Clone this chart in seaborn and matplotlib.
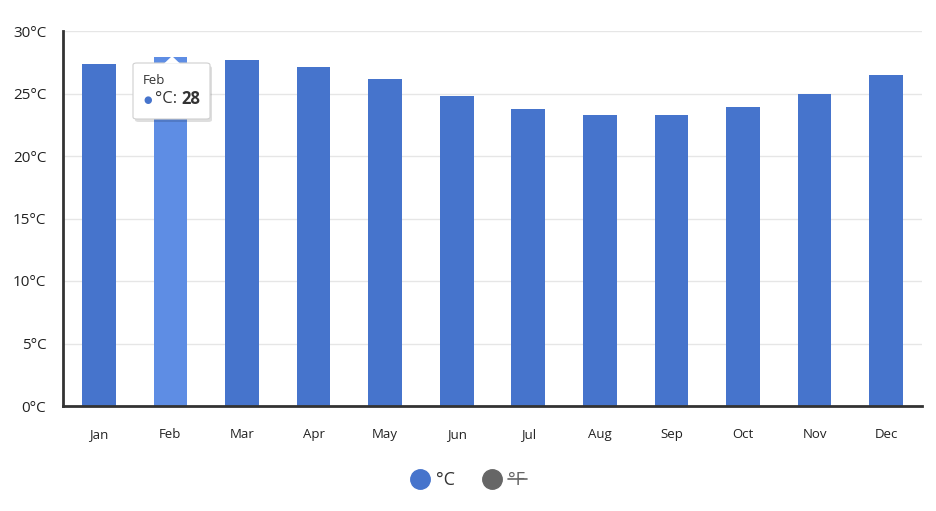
import matplotlib
matplotlib.use("Agg")
import matplotlib.pyplot as plt
import seaborn as sns
import pandas as pd
from matplotlib.patches import FancyBboxPatch, Polygon
from matplotlib.lines import Line2D

months = ["Jan", "Feb", "Mar", "Apr", "May", "Jun", "Jul", "Aug", "Sep", "Oct", "Nov", "Dec"]
temps_c = [27.4, 27.9, 27.7, 27.1, 26.2, 24.8, 23.8, 23.3, 23.3, 23.9, 25.0, 26.5]
y_ticks = [0, 5, 10, 15, 20, 25, 30]
y_labels = [f"{v}°C" for v in y_ticks]
highlight = "Feb"

sns.set_theme(style="white")
plt.rcParams["font.family"] = ["Open Sans", "DejaVu Sans"]

W, H = 937, 511
fig = plt.figure(figsize=(W / 100, H / 100), dpi=100)
ax = fig.add_axes([63 / W, 1 - 406 / H, (922 - 63) / W, (406 - 31) / H])

base = "#4674CC"
hl = "#5E8DE4"
df = pd.DataFrame({"month": months, "temp": temps_c})
palette = {m: (hl if m == highlight else base) for m in months}
sns.barplot(data=df, x="month", y="temp", hue="month", palette=palette,
            legend=False, width=0.47, ax=ax, saturation=1, linewidth=0)

ax.set_ylim(0, 30)
ax.set_xlim(-0.5, len(months) - 0.5)
ax.set_yticks(y_ticks)
ax.set_yticklabels(y_labels, fontsize=11, color="#222222")
ax.tick_params(axis="x", labelsize=9.5, colors="#222222", pad=16, length=0)
ax.tick_params(axis="y", length=0, pad=12)
ax.set_xlabel("")
ax.set_ylabel("")
ax.yaxis.grid(True, color="#e6e6e6", linewidth=1)
ax.set_axisbelow(True)
for s in ["top", "right"]:
    ax.spines[s].set_visible(False)
ax.spines["left"].set_color("#333333")
ax.spines["left"].set_linewidth(2)
ax.spines["bottom"].set_color("#333333")
ax.spines["bottom"].set_linewidth(2)

def fx(px):
    return px / W

def fy(py):
    return 1 - py / H

# tooltip
shadow = FancyBboxPatch((fx(135), fy(122)), fx(77), 56 / H,
                        boxstyle="round,pad=0,rounding_size=0.004",
                        transform=fig.transFigure, facecolor="#000000", alpha=0.13,
                        edgecolor="none", zorder=9)
fig.patches.append(shadow)
box = FancyBboxPatch((fx(133), fy(119)), fx(77), 56 / H,
                     boxstyle="round,pad=0,rounding_size=0.004",
                     transform=fig.transFigure, facecolor="white",
                     edgecolor="#d0d0d0", linewidth=0.8, zorder=10)
fig.patches.append(box)
tri = Polygon([(fx(164), fy(63.6)), (fx(172), fy(56)), (fx(180), fy(63.6))], closed=True,
              transform=fig.transFigure, facecolor="white", edgecolor="none", zorder=11)
fig.patches.append(tri)
fig.text(fx(143), fy(81), highlight, fontsize=9.5, color="#333333", va="center", zorder=12)
fig.text(fx(143), fy(100), "●", fontsize=7, color=base, va="center", zorder=12)
fig.text(fx(155), fy(99), "°C: ", fontsize=12, color="#333333", va="center", zorder=12)
fig.text(fx(181), fy(99), f"{round(temps_c[months.index(highlight)])}", fontsize=12,
         color="#333333", fontweight="bold", va="center", zorder=12)

# legend
fig.add_artist(Line2D([fx(420)], [fy(479)], marker="o", markersize=14, color=base,
                      linestyle="none", transform=fig.transFigure))
fig.text(fx(436), fy(480), "°C", fontsize=13, color="#333333", va="center")
fig.add_artist(Line2D([fx(492)], [fy(479)], marker="o", markersize=14, color="#666666",
                      linestyle="none", transform=fig.transFigure))
fig.text(fx(508), fy(480), "°F", fontsize=13, color="#666666", va="center")
fig.add_artist(Line2D([fx(508), fx(527)], [fy(479), fy(479)], color="#666666",
                      linewidth=1.2, transform=fig.transFigure))

fig.savefig("out.png", dpi=100, facecolor="white")
